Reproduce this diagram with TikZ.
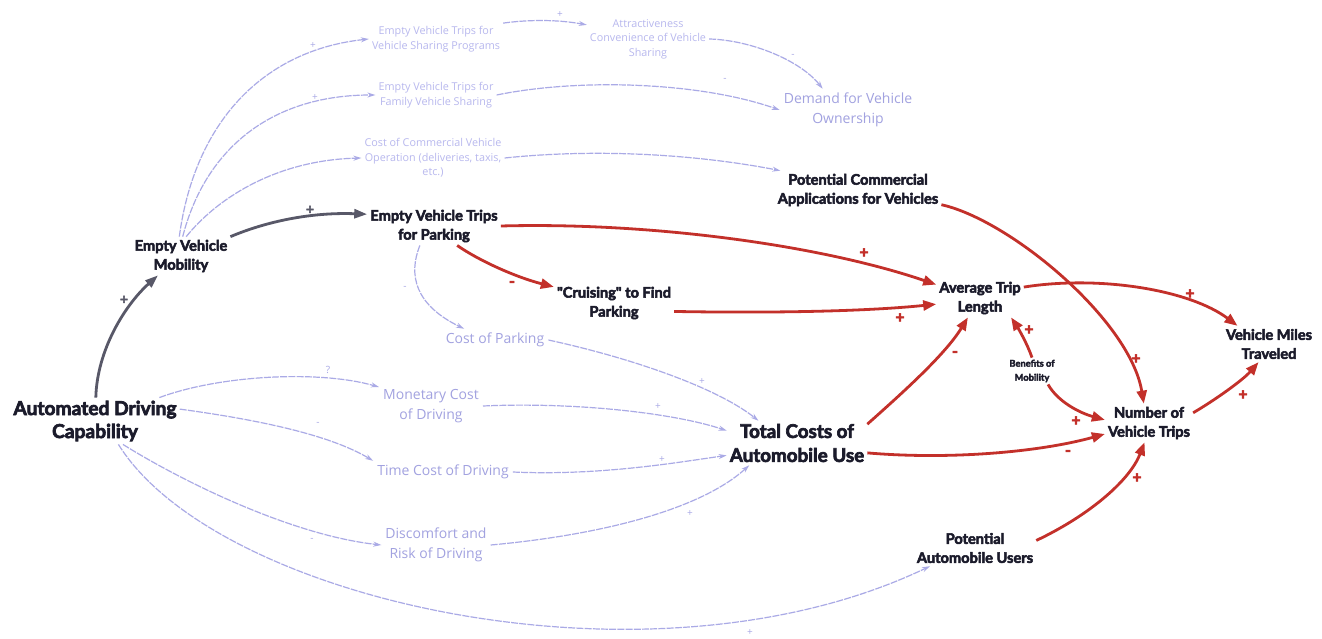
\documentclass[tikz,border=0pt]{standalone}
\usepackage{fontspec}
\setmainfont{Lato}
\newfontfamily\keyfont{Lato}[BoldFeatures={FakeBold=3.5}]
\newfontfamily\lightfont{Open Sans}
\usetikzlibrary{arrows.meta}
\definecolor{ink}{HTML}{1B1B2B}
\definecolor{redarc}{HTML}{C3302A}
\definecolor{grayarc}{HTML}{585868}
\definecolor{paletext}{HTML}{A2A2E0}
\definecolor{paletop}{HTML}{B8B8EE}
\definecolor{paleline}{HTML}{AAAAE6}
\begin{document}
\begin{tikzpicture}[x=1pt,y=-1pt,
  keyvar/.style={font=\keyfont\bfseries\fontsize{14.6}{19}\selectfont, text=ink, align=center, inner sep=3pt},
  bigvar/.style={keyvar, font=\keyfont\bfseries\fontsize{19.2}{23}\selectfont},
  benefit/.style={keyvar, font=\keyfont\bfseries\fontsize{9.3}{14}\selectfont, inner sep=2pt},
  minorvar/.style={font=\lightfont\fontsize{14}{20}\selectfont, text=paletext, align=center, inner sep=4pt},
  topvar/.style={font=\lightfont\fontsize{10.8}{14.5}\selectfont, text=paletop, align=center, inner sep=3pt},
  redlink/.style={draw=redarc, line width=2.8pt, -{Triangle[length=13pt,width=10pt]}},
  graylink/.style={draw=grayarc, line width=2.8pt, -{Triangle[length=13pt,width=9pt]}},
  palelink/.style={draw=paleline, line width=1.2pt, dash pattern=on 7pt off 1.2pt, -{Stealth[length=8pt,width=5pt]}},
  redsign/.style={text=redarc, font=\keyfont\bfseries\fontsize{16}{16}\selectfont, inner sep=0pt},
  graysign/.style={text=grayarc, font=\keyfont\bfseries\fontsize{14}{14}\selectfont, inner sep=0pt},
  palesign/.style={text=paleline, font=\lightfont\fontsize{10}{10}\selectfont, inner sep=0pt},
]
\useasboundingbox[fill=white] (0,0) rectangle (1322,639);

% ---- main variables
\node[bigvar] (adc) at (95,421) {Automated Driving\\Capability};
\node[keyvar] (evm) at (181,256) {Empty Vehicle\\Mobility};
\node[keyvar] (evtp) at (434,226) {Empty Vehicle Trips\\for Parking};
\node[keyvar] (cruise) at (614,303) {"Cruising" to Find\\Parking};
\node[keyvar] (atl) at (980,298) {Average Trip\\Length};
\node[keyvar] (pcav) at (858,190) {Potential Commercial\\Applications for Vehicles};
\node[keyvar] (vmt) at (1269,344) {Vehicle Miles\\Traveled};
\node[keyvar] (nvt) at (1149,423) {Number of\\Vehicle Trips};
\node[benefit] (bom) at (1032,371) {Benefits of\\Mobility};
\node[bigvar, font=\keyfont\bfseries\fontsize{18.8}{24}\selectfont] (tcau) at (797,443) {Total Costs of\\Automobile Use};
\node[keyvar] (pau) at (975,548) {Potential\\Automobile Users};

% ---- secondary variables
\node[topvar] (vsp) at (436,39) {Empty Vehicle Trips for\\Vehicle Sharing Programs};
\node[topvar] (attr) at (648,39) {Attractiveness\\Convenience of Vehicle\\Sharing};
\node[topvar] (fvs) at (436,95) {Empty Vehicle Trips for\\Family Vehicle Sharing};
\node[topvar] (ccv) at (433,158) {Cost of Commercial Vehicle\\Operation (deliveries, taxis,\\etc.)};
\node[minorvar] (dvo) at (848,110) {Demand for Vehicle\\Ownership};
\node[minorvar] (cop) at (495,340) {Cost of Parking};
\node[minorvar] (mcd) at (431,406) {Monetary Cost\\of Driving};
\node[minorvar] (tcd) at (443,472) {Time Cost of Driving};
\node[minorvar] (drd) at (436,545) {Discomfort and\\Risk of Driving};

% ---- faint links
\draw[palelink] (evm.95) .. controls (195,120) and (265,50) .. (vsp.west);
\draw[palelink] (evm.85) .. controls (205,150) and (270,95) .. (fvs.west);
\draw[palelink] (evm.75) .. controls (220,195) and (280,160) .. (ccv.west);
\draw[palelink] (vsp.north east) .. controls (525,20) and (555,19) .. (attr.167);
\draw[palelink] (attr.east) .. controls (750,40) and (800,60) .. (dvo.140);
\draw[palelink] (fvs.east) .. controls (580,78) and (700,82) .. (dvo.west);
\draw[palelink] (ccv.east) .. controls (600,148) and (700,155) .. (pcav.166);
\draw[palelink] (evtp.234) .. controls (408,275) and (415,305) .. (cop.160);
\draw[palelink] (cop.east) .. controls (640,360) and (720,390) .. (tcau.150);
\draw[palelink] (adc.20) .. controls (220,375) and (320,370) .. (mcd.160);
\draw[palelink] (adc.8) .. controls (260,420) and (330,435) .. (tcd.north west);
\draw[palelink] (adc.-40) .. controls (180,480) and (290,535) .. (drd.west);
\draw[palelink] (adc.-45) .. controls (215,600) and (650,700) .. (pau.202);
\draw[palelink] (mcd.east) .. controls (570,402) and (670,412) .. (tcau.170);
\draw[palelink] (tcd.east) .. controls (600,476) and (680,462) .. (tcau.190);
\draw[palelink] (drd.east) .. controls (600,535) and (700,510) .. (tcau.205);

\node[palesign] (s1) at (313,46) {+};
\node[palesign] (s2) at (315,98) {+};
\node[palesign] (s3) at (560,15) {+};
\node[palesign] (s4) at (793,56) {-};
\node[palesign] (s5) at (725,80) {-};
\node[palesign] (s6) at (405,288) {-};
\node[palesign] (s7) at (702,382) {+};
\node[palesign] (s8) at (328,370) {?};
\node[palesign] (s9) at (318,424) {-};
\node[palesign] (s10) at (312,540) {-};
\node[palesign] (s11) at (750,633) {+};
\node[palesign] (s12) at (658,407) {+};
\node[palesign] (s13) at (662,460) {+};
\node[palesign] (s14) at (690,514) {+};

% ---- dark links
\draw[graylink] (adc.88) .. controls (97,350) and (125,305) .. (evm.220);
\draw[graylink] (evm.north east) .. controls (265,222) and (310,212) .. (evtp.170);
\node[graysign] (g1) at (124,300) {+};
\node[graysign] (g2) at (310,210) {+};

% ---- red links
\draw[redlink] (evtp.east) .. controls (650,222) and (820,245) .. (atl.163);
\draw[redlink] (evtp.-40) .. controls (478,260) and (515,277) .. (cruise.165);
\draw[redlink] (cruise.-8) .. controls (760,313) and (860,312) .. (atl.188);
\draw[redlink] (tcau.15) .. controls (900,395) and (945,355) .. (atl.238);
\draw[redlink] (tcau.-8) .. controls (950,460) and (1040,452) .. (nvt.194);
\draw[redlink] (pcav.-10) .. controls (1010,220) and (1130,320) .. (nvt.105);
\draw[redlink] (atl.14) .. controls (1100,275) and (1190,290) .. (vmt.150);
\draw[redlink] (nvt.13) .. controls (1215,400) and (1243,380) .. (vmt.240);
\draw[redlink] (bom.north) .. controls (1027,343) and (1018,328) .. (atl.-32);
\draw[redlink] (bom.-40) .. controls (1058,402) and (1080,413) .. (nvt.176);
\draw[redlink] (pau.7) .. controls (1090,515) and (1130,480) .. (nvt.257);

\node[redsign] (r1) at (864,253) {+};
\node[redsign] (r2) at (512,284) {-};
\node[redsign] (r3) at (900,318) {+};
\node[redsign] (r4) at (955,354) {-};
\node[redsign] (r5) at (1068,453) {-};
\node[redsign] (r6) at (1136,359) {+};
\node[redsign] (r7) at (1190,294) {+};
\node[redsign] (r8) at (1243,395) {+};
\node[redsign] (r9) at (1029,330) {+};
\node[redsign] (r10) at (1076,421) {+};
\node[redsign] (r11) at (1137,478) {+};
\end{tikzpicture}
\end{document}
